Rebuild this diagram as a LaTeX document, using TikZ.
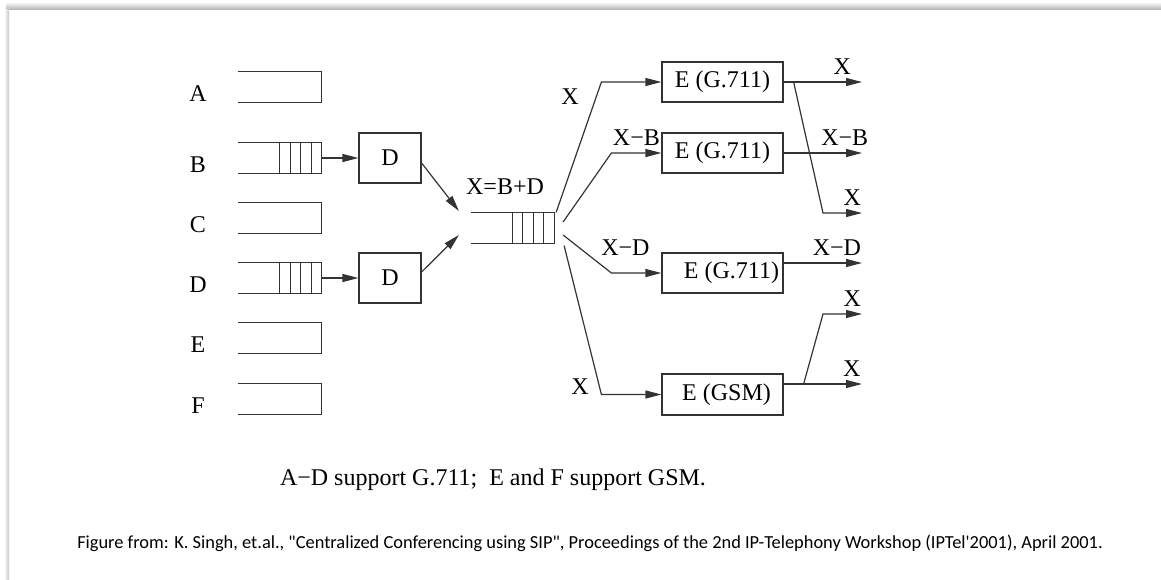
\documentclass[tikz,border=0pt]{standalone}
\usepackage{fontspec}
\setmainfont{Liberation Serif}
\newfontfamily\credfont{Carlito}
\usetikzlibrary{arrows.meta}
\newcommand{\qbuf}[1]{\draw (#1.north west) -- (#1.north east) -- (#1.south east) -- (#1.south west);}
\newcommand{\qslots}[1]{\foreach \k in {1,...,4} \draw ([xshift=-5.25pt*\k]#1.north east) -- ([xshift=-5.25pt*\k]#1.south east);}

\begin{document}
\begin{tikzpicture}[x=0.5pt,y=-0.5pt,>={Triangle[length=8pt,width=4pt]},
	line width=0.6pt,color=black!80,text=black,font=\fontsize{12}{14}\selectfont,
	buf/.style={minimum width=41pt,minimum height=15pt,inner sep=0pt},
	box/.style={draw,minimum width=31pt,minimum height=25pt,inner sep=0pt},
	enc/.style={draw,minimum width=60.5pt,minimum height=20pt,inner sep=0pt}]
	\useasboundingbox (0,0) rectangle (1161,579);
	% card edges
	\fill[top color=white,bottom color=black!28,draw=none] (6,2) rectangle (1161,9);
	\fill[left color=white,right color=black!22,draw=none] (4,9) rectangle (9,579);
	% input queues
	\node (qA) [buf] at (280,87) {};
	\node (qB) [buf,node distance=35.5pt,below of=qA] {};
	\node (qC) [buf,node distance=30pt,below of=qB] {};
	\node (qD) [buf,node distance=30pt,below of=qC] {};
	\node (qE) [buf,node distance=30pt,below of=qD] {};
	\node (qF) [buf,node distance=30.5pt,below of=qE] {};
	\node (A) [node distance=41pt,left of=qA,yshift=-3.5pt] {A};
	\node (B) [node distance=41pt,left of=qB,yshift=-3.5pt] {B};
	\node (C) [node distance=41pt,left of=qC,yshift=-3.5pt] {C};
	\node (D) [node distance=41pt,left of=qD,yshift=-3.5pt] {D};
	\node (E) [node distance=41pt,left of=qE,yshift=-3.5pt] {E};
	\node (F) [node distance=41pt,left of=qF,yshift=-3.5pt] {F};
	\node (D1) [box,node distance=55pt,right of=qB] {D};
	\node (D2) [box,node distance=55pt,right of=qD] {D};
	% mixer
	\node (qX) [buf] at (512.5,228) {};
	\node (sum) [node distance=20.5pt,above of=qX,xshift=-3.75pt] {X=B+D};
	% encoders
	\node (E1) [enc] at (722.5,82) {E (G.711)};
	\node (E2) [enc,node distance=35.5pt,below of=E1] {E (G.711)};
	\node (E3) [enc,node distance=60pt,below of=E2] {\hspace*{9pt}E (G.711)};
	\node (E4) [enc,minimum height=20.5pt,node distance=60.75pt,below of=E3] {\hspace*{4pt}E (GSM)};
	\coordinate (o1) at (862,82);
	\coordinate (o2) at (862,213);
	\coordinate (o3) at (862,153);
	\coordinate (o4) at (862,263);
	\coordinate (o5) at (862,314);
	\coordinate (o6) at (862,384);
	\qbuf{qA} \qbuf{qB} \qbuf{qC} \qbuf{qD} \qbuf{qE} \qbuf{qF} \qbuf{qX}
	\qslots{qB} \qslots{qD} \qslots{qX}
	\draw[->] (qB) -- (D1);
	\draw[->] (qD) -- (D2);
	\draw[->] ([yshift=-2.5pt]D1.east) -- ([xshift=-6pt,yshift=8.5pt]qX.west);
	\draw[->] ([yshift=3pt]D2.east) -- ([xshift=-6pt,yshift=-3.5pt]qX.west);
	\draw[->] ([xshift=1pt]qX.north east) -- ([xshift=-30pt]E1.west) -- (E1.west);
	\draw[->] ([xshift=4.5pt,yshift=3pt]qX.east) -- ([xshift=-25pt]E2.west) -- node[above]{X−B} (E2.west);
	\draw[->] ([xshift=4.5pt,yshift=-3.5pt]qX.east) -- ([xshift=-25pt]E3.west) -- node[above,xshift=-5.5pt,yshift=5pt]{X−D} (E3.west);
	\draw[->] ([xshift=5pt,yshift=-1pt]qX.south east) -- ([xshift=-30pt]E4.west) -- (E4.west);
	\node (x1) at (570,97) {X};
	\node (x4) at (580,387) {X};
	% outputs
	\draw[->] (E1.east) -- node[pos=.75,above]{X} (o1);
	\draw[->] ([xshift=5pt]E1.east) -- ([xshift=-19.5pt]o2) -- node[pos=.75,above]{X} (o2);
	\draw[->] (E2.east) -- node[pos=.78,above]{X−B} (o3);
	\draw[->] ([yshift=5pt]E3.east) -- node[pos=.68,above]{X−D} (o4);
	\draw[->] ([yshift=5.25pt]E4.east) -- node[pos=.87,above]{X} (o6);
	\draw[->] ([xshift=10pt,yshift=5.25pt]E4.east) -- ([xshift=-19.5pt]o5) -- node[pos=.75,above]{X} (o5);
	% captions
	\node (cap) at (493,480) {A−D support G.711;\ \ E and F support GSM.};
	\node (src) at (590,543) {\credfont\fontsize{9.2}{11}\selectfont Figure from: K. Singh, et.al., "Centralized Conferencing using SIP", Proceedings of the 2nd IP-Telephony Workshop (IPTel'2001), April 2001.};
\end{tikzpicture}
\end{document}
